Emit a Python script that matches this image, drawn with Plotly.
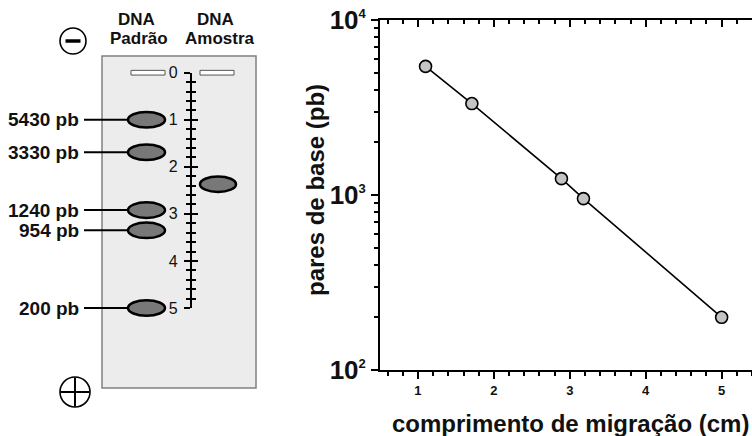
import plotly.graph_objects as go

# ---------------- data ----------------
band_sizes_pb = [5430, 3330, 1240, 954, 200]          # DNA padrão fragment sizes
gel_band_cm = [1.0, 1.69, 2.92, 3.35, 5.0]             # band positions drawn on the gel
sample_band_cm = [2.37]                                # DNA amostra band on the gel
plot_migration_cm = [1.1, 1.71, 2.89, 3.18, 5.0]       # x values on the calibration plot
ruler_ticks = [0, 1, 2, 3, 4, 5]
y_exponents = [2, 3, 4]
x_ticks = [1, 2, 3, 4, 5]

W, H = 752, 436
FONT = "Liberation Sans, Arial, sans-serif"

def px(x):
    return x / W

def py(y):
    return 1 - y / H

# gel coordinate system: x in pixels (x2), y in cm (y2)
CM0_PX, PX_PER_CM = 72.7, 47.06
y2_top = (0 - CM0_PX) / PX_PER_CM
y2_bot = (H - CM0_PX) / PX_PER_CM
GEL_XMAX = 270.0

fig = go.Figure()

# calibration line + points
fig.add_trace(go.Scatter(
    x=plot_migration_cm, y=band_sizes_pb, mode="lines+markers",
    line=dict(color="black", width=1.6),
    marker=dict(size=12, color="#c4c4c4", line=dict(color="black", width=1.6)),
    xaxis="x", yaxis="y", showlegend=False, hoverinfo="skip", cliponaxis=False))
# helper invisible traces so every axis gets drawn
for xa, ya in [("x3", "y"), ("x2", "y2"), ("x2", "y3"), ("x2", "y4")]:
    fig.add_trace(go.Scatter(x=[None], y=[None], xaxis=xa, yaxis=ya,
                             showlegend=False, hoverinfo="skip"))

shapes = []
annotations = []

# gel slab
shapes.append(dict(type="rect", xref="paper", yref="paper",
                   x0=px(102), x1=px(256), y0=py(388), y1=py(56),
                   fillcolor="#ececec", line=dict(color="#808080", width=1.5), layer="below"))

# electrodes
shapes.append(dict(type="circle", xref="paper", yref="paper",
                   x0=px(73 - 13), x1=px(73 + 13), y0=py(41 + 13), y1=py(41 - 13),
                   line=dict(color="black", width=1.6)))
shapes.append(dict(type="line", xref="paper", yref="paper",
                   x0=px(65.5), x1=px(80.5), y0=py(41), y1=py(41),
                   line=dict(color="black", width=3.5)))
shapes.append(dict(type="circle", xref="paper", yref="paper",
                   x0=px(75 - 15), x1=px(75 + 15), y0=py(392 + 15), y1=py(392 - 15),
                   line=dict(color="black", width=1.6)))
shapes.append(dict(type="line", xref="paper", yref="paper",
                   x0=px(60.5), x1=px(89.5), y0=py(392), y1=py(392),
                   line=dict(color="black", width=2)))
shapes.append(dict(type="line", xref="paper", yref="paper",
                   x0=px(75), x1=px(75), y0=py(377.5), y1=py(406.5),
                   line=dict(color="black", width=2)))

# wells
for x0, x1 in [(131, 165), (200, 234)]:
    shapes.append(dict(type="rect", xref="x2", yref="y2", x0=x0, x1=x1,
                       y0=-0.05, y1=0.05, fillcolor="white",
                       line=dict(color="#555555", width=1)))

BAND_HALF = 0.165
# DNA padrão bands with labels
for size, cm in zip(band_sizes_pb, gel_band_cm):
    shapes.append(dict(type="line", xref="x2", yref="y2", x0=84, x1=129, y0=cm, y1=cm,
                       line=dict(color="black", width=2)))
    shapes.append(dict(type="circle", xref="x2", yref="y2", x0=128, x1=165,
                       y0=cm - BAND_HALF, y1=cm + BAND_HALF, fillcolor="#787878",
                       line=dict(color="black", width=2.5)))
    annotations.append(dict(xref="x2", yref="y2", x=81, y=cm, xanchor="right", yanchor="middle",
                            text=f"{size} pb", showarrow=False,
                            font=dict(family=FONT, size=19, color="#111", weight="bold")))
# sample band
for cm in sample_band_cm:
    shapes.append(dict(type="circle", xref="x2", yref="y2", x0=200, x1=236,
                       y0=cm - BAND_HALF, y1=cm + BAND_HALF, fillcolor="#787878",
                       line=dict(color="black", width=2.5)))

# lane headers
for txt, x, y in [("DNA", 136, 19.5), ("Padrão", 139, 38.5), ("DNA", 215, 19.5), ("Amostra", 219.5, 38.5)]:
    annotations.append(dict(xref="paper", yref="paper", x=px(x), y=py(y), xanchor="center",
                            yanchor="middle", text=txt, showarrow=False,
                            font=dict(family=FONT, size=17, color="#111", weight="bold")))

# axis titles for the calibration plot
annotations.append(dict(xref="paper", yref="paper", x=px(570), y=py(423), xanchor="center",
                        yanchor="middle", text="comprimento de migração (cm)", showarrow=False,
                        font=dict(family=FONT, size=24, color="#111", weight="bold")))
annotations.append(dict(xref="paper", yref="paper", x=px(316), y=py(190), xanchor="center",
                        yanchor="middle", text="pares de base (pb)", showarrow=False, textangle=-90,
                        font=dict(family=FONT, size=24, color="#111", weight="bold")))

main_dom_x = [px(380), 1.0]
main_dom_y = [py(370), py(20)]
ruler_dom_y = [py(CM0_PX + 5 * PX_PER_CM), py(CM0_PX)]
ruler_pos = px(190.7)

fig.update_layout(
    width=W, height=H, autosize=False,
    margin=dict(l=0, r=0, t=0, b=0, pad=0, autoexpand=False),
    paper_bgcolor="white", plot_bgcolor="rgba(0,0,0,0)",
    showlegend=False,
    shapes=shapes, annotations=annotations,
    xaxis=dict(domain=main_dom_x, range=[0.5, 5.4], anchor="y", automargin=False,
               showline=True, linecolor="black", linewidth=2, showgrid=False, zeroline=False,
               tickvals=x_ticks, ticktext=[str(v) for v in x_ticks],
               ticks="outside", ticklen=7, tickwidth=1.5, tickcolor="black",
               minor=dict(dtick=0.2, tick0=0, ticks="outside", ticklen=4, tickwidth=1.5,
                          tickcolor="black", showgrid=False),
               tickfont=dict(family=FONT, size=13, color="#111", weight="bold")),
    xaxis3=dict(overlaying="x", side="top", range=[0.5, 5.4], anchor="y", automargin=False,
                showline=True, linecolor="black", linewidth=2, showgrid=False, zeroline=False,
                tickvals=x_ticks, showticklabels=False,
                ticks="inside", ticklen=7, tickwidth=1.5, tickcolor="black",
                minor=dict(dtick=0.2, tick0=0, ticks="inside", ticklen=4, tickwidth=1.5,
                           tickcolor="black", showgrid=False)),
    yaxis=dict(domain=main_dom_y, type="log", range=[2, 4], anchor="x", automargin=False,
               showline=True, linecolor="black", linewidth=2, showgrid=False, zeroline=False,
               tickvals=[10 ** e for e in y_exponents],
               ticktext=[f"10<sup><span style='font-size:13px'>{e}</span></sup>" for e in y_exponents],
               ticks="outside", ticklen=7, tickwidth=1.5, tickcolor="black",
               minor=dict(dtick="D1", ticks="outside", ticklen=4, tickwidth=1.5,
                          tickcolor="black", showgrid=False),
               tickfont=dict(family=FONT, size=26, color="#111", weight="bold")),
    xaxis2=dict(domain=[0, px(GEL_XMAX)], range=[0, GEL_XMAX], anchor="y2", visible=False,
                fixedrange=True, automargin=False),
    yaxis2=dict(domain=[0, 1], range=[y2_bot, y2_top], anchor="x2", visible=False,
                fixedrange=True, automargin=False),
    yaxis3=dict(domain=ruler_dom_y, range=[5, 0], anchor="free", position=ruler_pos,
                side="left", showline=True, linecolor="black", linewidth=1.6, automargin=False,
                showgrid=False, zeroline=False,
                tickvals=ruler_ticks, ticktext=[str(v) for v in ruler_ticks],
                ticks="outside", ticklen=6, tickwidth=1.5, tickcolor="black",
                ticklabelstandoff=3,
                minor=dict(dtick=0.2, tick0=0, ticks="outside", ticklen=4, tickwidth=1.5,
                           tickcolor="black", showgrid=False),
                tickfont=dict(family=FONT, size=16, color="#111")),
    yaxis4=dict(overlaying="y3", range=[5, 0], anchor="free", position=ruler_pos, automargin=False,
                side="left", showline=False, showgrid=False, zeroline=False,
                tickvals=ruler_ticks, showticklabels=False,
                ticks="inside", ticklen=6, tickwidth=1.5, tickcolor="black",
                minor=dict(dtick=0.2, tick0=0, ticks="inside", ticklen=4, tickwidth=1.5,
                           tickcolor="black", showgrid=False)),
)

fig.write_html("out.html", config={"displayModeBar": False},
               post_script="document.body.style.margin='0';document.body.style.overflow='hidden';")
